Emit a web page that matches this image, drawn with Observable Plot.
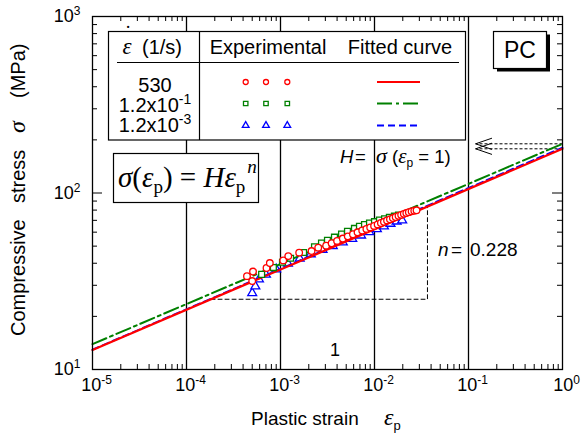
<!DOCTYPE html>
<html>
<head>
<meta charset="utf-8">
<script src="https://cdn.jsdelivr.net/npm/d3@7"></script>
<script src="https://cdn.jsdelivr.net/npm/@observablehq/plot@0.6"></script>
<style>
  body { margin: 0; background: #fff; }
  svg { display: block; }
</style>
</head>
<body>
<div id="chart"></div>
<script>
// Strain rates (1/s), one series each
const rates = ["530", "1.2x10^-1", "1.2x10^-3"];
const colors = ["#ff0000", "#008000", "#0000ff"];
const symbols = ["circle", "square", "triangle"];

// Power-law fits  sigma = H * eps^n
const fitH = [178, 190, 181];
const fitN = [0.228, 0.227, 0.229];

// Experimental points: plastic strain and compressive stress (MPa)
const strain530 = [4.4e-4, 5.0e-4, 5.1e-4, 7.1e-4, 7.7e-4, 1.07e-3, 1.21e-3, 1.58e-3, 2.14e-3, 2.52e-3, 3.06e-3,
  3.5e-3, 4.0e-3, 4.6e-3, 5.2e-3, 5.9e-3, 6.6e-3, 7.4e-3, 8.2e-3, 9.0e-3, 9.9e-3, 1.08e-2, 1.17e-2, 1.26e-2,
  1.36e-2, 1.46e-2, 1.57e-2, 1.68e-2, 1.80e-2, 1.92e-2, 2.05e-2, 2.18e-2, 2.32e-2, 2.48e-2, 2.65e-2, 2.8e-2];
const stress530 = [33.8, 31.7, 35.9, 37.6, 40.1, 41.5, 43.9, 45.9, 46.9, 49.0, 50.3,
  51.9, 53.5, 55.2, 56.8, 58.4, 59.9, 61.3, 62.6, 63.8, 65.1, 66.4, 67.6, 68.7,
  69.9, 70.9, 72.1, 73.1, 74.2, 75.2, 76.2, 77.0, 77.9, 78.7, 79.4, 79.8];

const strainE1 = [6.3e-4, 8.4e-4, 1.05e-3, 1.28e-3, 1.76e-3, 2.30e-3, 2.73e-3, 3.16e-3, 3.75e-3, 4.46e-3, 5.16e-3,
  6.12e-3, 6.92e-3, 7.83e-3, 8.85e-3, 1.0e-2, 1.13e-2, 1.28e-2, 1.44e-2, 1.63e-2, 1.80e-2];
const stressE1 = [34.6, 37.8, 40.5, 42.7, 46.0, 49.6, 52.0, 54.0, 56.2, 58.6, 60.7,
  63.0, 64.8, 66.3, 67.6, 68.8, 70.2, 71.5, 72.7, 73.9, 74.9];

const strainE3 = [5.0e-4, 5.4e-4, 5.9e-4, 7.0e-4, 9.0e-4, 1.2e-3, 1.6e-3, 2.1e-3, 2.8e-3, 3.6e-3, 4.6e-3,
  5.8e-3, 7.2e-3, 8.8e-3, 1.06e-2, 1.26e-2, 1.48e-2, 1.72e-2, 1.97e-2];
const stressE3 = [27.1, 29.6, 32.4, 34.5, 37.0, 39.8, 42.5, 45.0, 47.6, 50.0, 52.5,
  55.0, 57.5, 60.0, 62.4, 64.8, 67.0, 69.0, 70.0];

// Axis decades and their exponents
const xDecades = [1e-5, 1e-4, 1e-3, 1e-2, 1e-1, 1];
const xExponents = ["-5", "-4", "-3", "-2", "-1", "0"];
const yDecades = [10, 100, 1000];
const yExponents = ["1", "2", "3"];

// Slope triangle and H read-off arrows
const slopeStress = 25;
const slopeStrainEnd = 0.0366;
const arrowTipStrain = 0.119;

const width = 581, height = 439;
const margin = {top: 16, right: 19, bottom: 70, left: 92};
const frameW = width - margin.left - margin.right;
const frameH = height - margin.top - margin.bottom;

const seriesStrain = [strain530, strainE1, strainE3];
const seriesStress = [stress530, stressE1, stressE3];
const points = seriesStrain.map((xs, k) => xs.map((x, j) => ({strain: x, stress: seriesStress[k][j], k})));

const fitLines = fitH.map((H, k) => [1e-5, 1].map(x => ({strain: x, stress: H * Math.pow(x, fitN[k]), k})));
const dashes = [null, "15,4,3,4", "7,4"];
const lineWidths = [2.2, 2, 1.8];

const minorX = xDecades.slice(0, -1).flatMap(d => d3.range(2, 10).map(m => m * d));
const minorY = yDecades.slice(0, -1).flatMap(d => d3.range(2, 10).map(m => m * d));

const slopeStart = Math.pow(slopeStress / fitH[0], 1 / fitN[0]);
const slopeTriangle = [
  {strain: slopeStart, stress: slopeStress},
  {strain: slopeStrainEnd, stress: slopeStress},
  {strain: slopeStrainEnd, stress: fitH[0] * Math.pow(slopeStrainEnd, fitN[0])}
];
const hValues = [fitH[1], fitH[0]];

const chevron = {
  draw(context, l, r) {
    context.moveTo(-r, -l);
    context.lineTo(0, 0);
    context.lineTo(r, -l);
  }
};

const sans = "'Liberation Sans', Arial, Helvetica, sans-serif";
const serif = "'Liberation Serif', 'Times New Roman', serif";

const dotMark = (k, r) => Plot.dot(points[k], {
  x: "strain", y: "stress", symbol: symbols[k], r,
  stroke: colors[k], fill: "white", strokeWidth: 1.3
});
const fitMark = k => Plot.line(fitLines[k], {
  x: "strain", y: "stress", stroke: colors[k], strokeWidth: lineWidths[k],
  strokeDasharray: dashes[k]
});

const chart = Plot.plot({
  width, height,
  marginTop: margin.top, marginRight: margin.right, marginBottom: margin.bottom, marginLeft: margin.left,
  style: {fontFamily: sans, fontSize: "18px", background: "white", color: "black"},
  x: {type: "log", domain: [1e-5, 1], axis: null},
  y: {type: "log", domain: [10, 1000], axis: null},
  marks: [
    // decade gridlines
    Plot.ruleX(xDecades.slice(1, -1), {stroke: "black", strokeWidth: 1.3}),
    // inward minor ticks on all four sides
    Plot.ruleX(minorX, {stroke: "black", strokeWidth: 1, insetTop: frameH - 5}),
    Plot.ruleX(minorX, {stroke: "black", strokeWidth: 1, insetBottom: frameH - 5}),
    Plot.ruleY(minorY, {stroke: "black", strokeWidth: 1, insetRight: frameW - 5}),
    Plot.ruleY(minorY, {stroke: "black", strokeWidth: 1, insetLeft: frameW - 5}),
    Plot.ruleY([100], {stroke: "black", strokeWidth: 1, insetRight: frameW - 10}),
    Plot.ruleY([100], {stroke: "black", strokeWidth: 1, insetLeft: frameW - 10}),
    // slope triangle
    Plot.line(slopeTriangle, {x: "strain", y: "stress", stroke: "black", strokeWidth: 1, strokeDasharray: "4,3"}),
    // H read-off arrows at eps = 1
    Plot.link(hValues, {x1: 1, x2: arrowTipStrain, y1: d => d, y2: d => d, stroke: "black", strokeWidth: 1, strokeDasharray: "3,2"}),
    Plot.vector(hValues, {x: arrowTipStrain, y: d => d, length: 16, r: 5.5, rotate: 90, anchor: "start",
      shape: chevron, stroke: "black", strokeWidth: 1}),
    // data and fits
    dotMark(2, 3.3),
    fitMark(2),
    fitMark(1),
    fitMark(0),
    dotMark(1, 3.3),
    dotMark(0, 3.3),
    Plot.frame({stroke: "black", strokeWidth: 1.3}),
    // tick labels
    Plot.text(xDecades, {x: d => d, frameAnchor: "bottom", dy: 16, dx: 4, lineAnchor: "middle",
      text: (d, i) => "10^" + xExponents[i], fontSize: 18}),
    Plot.text(yDecades, {y: d => d, frameAnchor: "left", dx: -12, textAnchor: "end", lineAnchor: "middle",
      text: (d, i) => "10^" + yExponents[i], fontSize: 18})
  ]
});

document.getElementById("chart").append(chart);
const svg = d3.select(chart);

// superscript exponents on tick labels
svg.selectAll("text").filter(function () { return this.textContent.includes("^"); }).each(function () {
  const t = d3.select(this);
  const [base, exp] = t.text().split("^");
  t.text(base);
  t.append("tspan").attr("dy", -7).attr("font-size", 12).text(exp);
});

const ann = svg.append("g").attr("fill", "black").attr("font-family", sans).attr("text-anchor", "start");

// axis titles
const xt = ann.append("text").attr("y", 425).attr("font-size", 19);
xt.append("tspan").attr("x", 251).text("Plastic strain");
xt.append("tspan").attr("x", 384).attr("font-family", serif).attr("font-style", "italic").attr("font-size", 24).text("ε");
xt.append("tspan").attr("dy", 5).attr("font-size", 13).text("p");

const yt = ann.append("text").attr("transform", "translate(25,0) rotate(-90)").attr("font-size", 20);
yt.append("tspan").attr("x", -336).text("Compressive");
yt.append("tspan").attr("x", -203).text("stress");
yt.append("tspan").attr("x", -133).attr("font-family", serif).attr("font-style", "italic").attr("font-size", 24).text("σ");
yt.append("tspan").attr("x", -98).text("(MPa)");

// H = sigma(eps_p = 1)
const ht = ann.append("text").attr("y", 163).attr("font-size", 18.5);
ht.append("tspan").attr("x", 340).attr("font-style", "italic").text("H");
ht.append("tspan").attr("x", 355).text("=");
ht.append("tspan").attr("x", 376).attr("font-family", serif).attr("font-style", "italic").attr("font-size", 22).text("σ");
ht.append("tspan").text(" (");
ht.append("tspan").attr("font-family", serif).attr("font-style", "italic").attr("font-size", 21).text("ε");
ht.append("tspan").attr("dy", 4).attr("font-size", 12).text("p");
ht.append("tspan").attr("dy", -4).text(" = 1)");

// n = slope
const nt = ann.append("text").attr("y", 256).attr("font-size", 19);
nt.append("tspan").attr("x", 438).attr("font-style", "italic").text("n");
nt.append("tspan").attr("x", 451).text("=");
nt.append("tspan").attr("x", 470).text(String(fitN[0]));

ann.append("text").attr("x", 335).attr("y", 356).attr("font-size", 18).attr("text-anchor", "middle").text("1");

// formula box
ann.append("rect").attr("x", 113.5).attr("y", 153.5).attr("width", 145).attr("height", 49)
  .attr("fill", "white").attr("stroke", "black").attr("stroke-width", 1.2);
const ft = ann.append("text").attr("x", 118).attr("y", 187).attr("font-family", serif).attr("font-size", 29);
ft.append("tspan").attr("font-style", "italic").text("σ");
ft.append("tspan").text("(");
ft.append("tspan").attr("font-style", "italic").text("ε");
ft.append("tspan").attr("dy", 6).attr("font-size", 19).text("p");
ft.append("tspan").attr("dy", -6).text(") = ");
ft.append("tspan").attr("font-style", "italic").text("Hε");
ft.append("tspan").attr("dy", 6).attr("font-size", 19).text("p");
ft.append("tspan").attr("dy", -20).attr("dx", 2).attr("font-size", 19).attr("font-style", "italic").text("n");

// PC badge
ann.append("rect").attr("x", 497).attr("y", 34.5).attr("width", 53).attr("height", 37).attr("fill", "black");
ann.append("rect").attr("x", 493.5).attr("y", 31.5).attr("width", 53).attr("height", 37)
  .attr("fill", "white").attr("stroke", "black").attr("stroke-width", 1.2);
ann.append("text").attr("x", 520).attr("y", 58).attr("font-size", 23).attr("text-anchor", "middle").text("PC");

// legend table
const lg = svg.append("g").attr("font-family", sans).attr("font-size", 20).attr("fill", "black");
lg.append("rect").attr("x", 108.5).attr("y", 31.5).attr("width", 357).attr("height", 108.5)
  .attr("fill", "white").attr("stroke", "black").attr("stroke-width", 1.2);
lg.append("line").attr("x1", 117).attr("x2", 459).attr("y1", 62.5).attr("y2", 62.5).attr("stroke", "black").attr("stroke-width", 1.2);
lg.append("line").attr("x1", 199.5).attr("x2", 199.5).attr("y1", 31.5).attr("y2", 140).attr("stroke", "black").attr("stroke-width", 1.2);

// strain-rate symbol with its overdot
lg.append("text").attr("x", 127).attr("y", 54).attr("text-anchor", "middle")
  .attr("font-family", serif).attr("font-style", "italic").attr("font-size", 23).text("ε");
lg.append("text").attr("x", 128).attr("y", 40).attr("text-anchor", "middle")
  .attr("font-family", serif).attr("font-size", 20).text("˙");
lg.append("text").attr("x", 142).attr("y", 54).attr("text-anchor", "start").text("(1/s)");
lg.append("text").attr("x", 268).attr("y", 54).attr("text-anchor", "middle").text("Experimental");
lg.append("text").attr("x", 400).attr("y", 54).attr("text-anchor", "middle").text("Fitted curve");

const rowBase = [91.7, 112.3, 131.7];
const rowMid = [82, 103.5, 125.5];
const markerX = [245.7, 266, 287.3];
rates.forEach((r, k) => {
  const t = lg.append("text").attr("x", 155).attr("y", rowBase[k]).attr("text-anchor", "middle");
  const [base, exp] = r.split("^");
  t.append("tspan").text(base);
  if (exp) t.append("tspan").attr("dy", -8).attr("font-size", 14).text(exp);
  const sym = d3.symbol(
    [d3.symbolCircle, d3.symbolSquare, d3.symbolTriangle][k],
    Math.PI * 2.5 * 2.5
  );
  markerX.forEach(mx => {
    lg.append("path").attr("d", sym()).attr("transform", `translate(${mx},${rowMid[k]})`)
      .attr("fill", "white").attr("stroke", colors[k]).attr("stroke-width", 1.3);
  });
  lg.append("line").attr("x1", 377).attr("x2", 420).attr("y1", rowMid[k]).attr("y2", rowMid[k])
    .attr("stroke", colors[k]).attr("stroke-width", lineWidths[k]).attr("stroke-dasharray", dashes[k]);
});
</script>
</body>
</html>
